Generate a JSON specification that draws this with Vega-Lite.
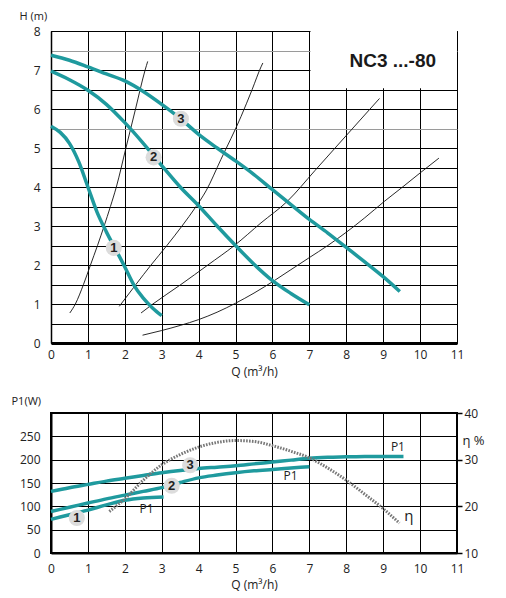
{
  "$schema": "https://vega.github.io/schema/vega-lite/v6.json",
  "background": "white",
  "padding": {"left": 10, "top": 9, "right": 5, "bottom": 5},
  "bounds": "flush",
  "spacing": 70,
  "config": {
    "font": "Open Sans",
    "axis": {
      "labelFont": "Open Sans", "labelFontSize": 12, "labelColor": "#222",
      "titleFont": "Open Sans", "titleFontSize": 12, "titleFontWeight": "normal", "titleColor": "#222",
      "ticks": false, "labelAngle": 0
    }
  },
  "datasets": {
    "pump": [
      {"speed": 1, "Q": 0, "H": 5.56}, {"speed": 1, "Q": 0.25, "H": 5.4}, {"speed": 1, "Q": 0.5, "H": 5.12},
      {"speed": 1, "Q": 0.75, "H": 4.65}, {"speed": 1, "Q": 1, "H": 4.0}, {"speed": 1, "Q": 1.25, "H": 3.35},
      {"speed": 1, "Q": 1.5, "H": 2.85}, {"speed": 1, "Q": 1.75, "H": 2.4}, {"speed": 1, "Q": 2, "H": 1.95},
      {"speed": 1, "Q": 2.25, "H": 1.48}, {"speed": 1, "Q": 2.5, "H": 1.15}, {"speed": 1, "Q": 2.75, "H": 0.9},
      {"speed": 1, "Q": 3, "H": 0.7},
      {"speed": 2, "Q": 0, "H": 6.97}, {"speed": 2, "Q": 0.5, "H": 6.75}, {"speed": 2, "Q": 1, "H": 6.48},
      {"speed": 2, "Q": 1.5, "H": 6.12}, {"speed": 2, "Q": 2, "H": 5.65}, {"speed": 2, "Q": 2.5, "H": 5.12},
      {"speed": 2, "Q": 3, "H": 4.55}, {"speed": 2, "Q": 3.5, "H": 4.0}, {"speed": 2, "Q": 4, "H": 3.52},
      {"speed": 2, "Q": 4.5, "H": 3.0}, {"speed": 2, "Q": 5, "H": 2.5}, {"speed": 2, "Q": 5.5, "H": 2.02},
      {"speed": 2, "Q": 6, "H": 1.6}, {"speed": 2, "Q": 6.5, "H": 1.27}, {"speed": 2, "Q": 7, "H": 0.98},
      {"speed": 3, "Q": 0, "H": 7.38}, {"speed": 3, "Q": 0.5, "H": 7.25}, {"speed": 3, "Q": 1, "H": 7.08},
      {"speed": 3, "Q": 1.5, "H": 6.9}, {"speed": 3, "Q": 2, "H": 6.72}, {"speed": 3, "Q": 2.5, "H": 6.45},
      {"speed": 3, "Q": 3, "H": 6.12}, {"speed": 3, "Q": 3.5, "H": 5.76}, {"speed": 3, "Q": 4, "H": 5.35},
      {"speed": 3, "Q": 4.5, "H": 5.0}, {"speed": 3, "Q": 5, "H": 4.67}, {"speed": 3, "Q": 5.5, "H": 4.32},
      {"speed": 3, "Q": 6, "H": 3.93}, {"speed": 3, "Q": 6.5, "H": 3.55}, {"speed": 3, "Q": 7, "H": 3.17},
      {"speed": 3, "Q": 7.5, "H": 2.82}, {"speed": 3, "Q": 8, "H": 2.45}, {"speed": 3, "Q": 8.5, "H": 2.08},
      {"speed": 3, "Q": 9, "H": 1.7}, {"speed": 3, "Q": 9.45, "H": 1.32}
    ],
    "system": [
      {"curve": "A", "Q": 0.51, "H": 0.77}, {"curve": "A", "Q": 0.66, "H": 1.0}, {"curve": "A", "Q": 0.88, "H": 1.5},
      {"curve": "A", "Q": 1.07, "H": 2.0}, {"curve": "A", "Q": 1.26, "H": 2.5}, {"curve": "A", "Q": 1.44, "H": 3.0},
      {"curve": "A", "Q": 1.61, "H": 3.5}, {"curve": "A", "Q": 1.77, "H": 4.0}, {"curve": "A", "Q": 2.03, "H": 5.0},
      {"curve": "A", "Q": 2.29, "H": 6.0}, {"curve": "A", "Q": 2.55, "H": 7.0}, {"curve": "A", "Q": 2.62, "H": 7.22},
      {"curve": "B", "Q": 1.85, "H": 0.94}, {"curve": "B", "Q": 2.3, "H": 1.5}, {"curve": "B", "Q": 2.71, "H": 2.0},
      {"curve": "B", "Q": 3.14, "H": 2.5}, {"curve": "B", "Q": 3.55, "H": 3.0}, {"curve": "B", "Q": 3.93, "H": 3.5},
      {"curve": "B", "Q": 4.2, "H": 3.9}, {"curve": "B", "Q": 4.6, "H": 4.7}, {"curve": "B", "Q": 5.15, "H": 5.81},
      {"curve": "B", "Q": 5.45, "H": 6.5}, {"curve": "B", "Q": 5.69, "H": 7.08}, {"curve": "B", "Q": 5.74, "H": 7.18},
      {"curve": "C", "Q": 2.44, "H": 0.77}, {"curve": "C", "Q": 2.76, "H": 1.0}, {"curve": "C", "Q": 3.52, "H": 1.5},
      {"curve": "C", "Q": 4.25, "H": 2.0}, {"curve": "C", "Q": 4.97, "H": 2.5}, {"curve": "C", "Q": 5.69, "H": 3.08},
      {"curve": "C", "Q": 6.41, "H": 3.64}, {"curve": "C", "Q": 7.15, "H": 4.42}, {"curve": "C", "Q": 8.0, "H": 5.32},
      {"curve": "C", "Q": 8.9, "H": 6.27},
      {"curve": "D", "Q": 2.48, "H": 0.2}, {"curve": "D", "Q": 3.0, "H": 0.32}, {"curve": "D", "Q": 3.5, "H": 0.45},
      {"curve": "D", "Q": 4.0, "H": 0.6}, {"curve": "D", "Q": 4.5, "H": 0.79}, {"curve": "D", "Q": 5.0, "H": 1.02},
      {"curve": "D", "Q": 5.5, "H": 1.28}, {"curve": "D", "Q": 6.05, "H": 1.6}, {"curve": "D", "Q": 6.5, "H": 1.88},
      {"curve": "D", "Q": 7.0, "H": 2.19}, {"curve": "D", "Q": 7.5, "H": 2.5}, {"curve": "D", "Q": 8.0, "H": 2.84},
      {"curve": "D", "Q": 8.5, "H": 3.21}, {"curve": "D", "Q": 9.03, "H": 3.63}, {"curve": "D", "Q": 9.5, "H": 3.98},
      {"curve": "D", "Q": 10.0, "H": 4.36}, {"curve": "D", "Q": 10.51, "H": 4.74}
    ],
    "pumpTags": [
      {"tag": "1", "Q": 1.7, "H": 2.44},
      {"tag": "2", "Q": 2.78, "H": 4.76},
      {"tag": "3", "Q": 3.52, "H": 5.75}
    ],
    "box": [
      {"Q": 7.03, "Q2": 11, "H": 6.53, "H2": 8}
    ],
    "model": [
      {"name": "NC3 ...-80", "Q": 9.26, "H": 7.22}
    ],
    "power": [
      {"speed": 1, "Q": 0, "P1": 72}, {"speed": 1, "Q": 0.5, "P1": 82}, {"speed": 1, "Q": 1, "P1": 92},
      {"speed": 1, "Q": 1.5, "P1": 103}, {"speed": 1, "Q": 2, "P1": 113}, {"speed": 1, "Q": 2.5, "P1": 118},
      {"speed": 1, "Q": 3.05, "P1": 120},
      {"speed": 2, "Q": 0, "P1": 89}, {"speed": 2, "Q": 0.5, "P1": 98}, {"speed": 2, "Q": 1, "P1": 107},
      {"speed": 2, "Q": 1.5, "P1": 116}, {"speed": 2, "Q": 2, "P1": 124}, {"speed": 2, "Q": 2.5, "P1": 132},
      {"speed": 2, "Q": 3, "P1": 140}, {"speed": 2, "Q": 3.5, "P1": 151}, {"speed": 2, "Q": 4, "P1": 161},
      {"speed": 2, "Q": 4.5, "P1": 167}, {"speed": 2, "Q": 5, "P1": 172}, {"speed": 2, "Q": 5.5, "P1": 176},
      {"speed": 2, "Q": 6, "P1": 179}, {"speed": 2, "Q": 6.5, "P1": 182}, {"speed": 2, "Q": 7, "P1": 185},
      {"speed": 3, "Q": 0, "P1": 132}, {"speed": 3, "Q": 0.5, "P1": 140}, {"speed": 3, "Q": 1, "P1": 147},
      {"speed": 3, "Q": 1.5, "P1": 154}, {"speed": 3, "Q": 2, "P1": 160}, {"speed": 3, "Q": 2.5, "P1": 166},
      {"speed": 3, "Q": 3, "P1": 172}, {"speed": 3, "Q": 3.5, "P1": 177}, {"speed": 3, "Q": 4, "P1": 181},
      {"speed": 3, "Q": 4.5, "P1": 184}, {"speed": 3, "Q": 5, "P1": 187}, {"speed": 3, "Q": 5.5, "P1": 191},
      {"speed": 3, "Q": 6, "P1": 195}, {"speed": 3, "Q": 6.5, "P1": 199}, {"speed": 3, "Q": 7, "P1": 203},
      {"speed": 3, "Q": 7.5, "P1": 205}, {"speed": 3, "Q": 8, "P1": 206}, {"speed": 3, "Q": 8.5, "P1": 207},
      {"speed": 3, "Q": 9, "P1": 207}, {"speed": 3, "Q": 9.55, "P1": 207}
    ],
    "powerTags": [
      {"tag": "1", "Q": 0.7, "P1": 75},
      {"tag": "2", "Q": 3.27, "P1": 144},
      {"tag": "3", "Q": 3.77, "P1": 188}
    ],
    "powerNotes": [
      {"note": "P1", "Q": 2.59, "P1": 94},
      {"note": "P1", "Q": 6.49, "P1": 164},
      {"note": "P1", "Q": 9.4, "P1": 228}
    ],
    "eff": [
      {"Q": 1.58, "eta": 18.9}, {"Q": 2.0, "eta": 21.6}, {"Q": 2.5, "eta": 25.6}, {"Q": 3.0, "eta": 28.9},
      {"Q": 3.5, "eta": 31.1}, {"Q": 4.0, "eta": 32.7}, {"Q": 4.5, "eta": 33.7}, {"Q": 5.0, "eta": 34.1},
      {"Q": 5.5, "eta": 33.9}, {"Q": 6.0, "eta": 33.0}, {"Q": 6.5, "eta": 31.8}, {"Q": 7.0, "eta": 30.4},
      {"Q": 7.5, "eta": 28.2}, {"Q": 8.0, "eta": 25.6}, {"Q": 8.5, "eta": 22.6}, {"Q": 9.0, "eta": 19.5},
      {"Q": 9.44, "eta": 16.4}
    ],
    "effNote": [
      {"note": "η", "Q": 9.57, "eta": 18.0}
    ]
  },
  "vconcat": [
    {
      "width": 406,
      "height": 312,
      "view": {"stroke": "black", "strokeWidth": 1},
      "encoding": {
        "x": {
          "field": "Q", "type": "quantitative",
          "scale": {"domain": [0, 11], "nice": false},
          "axis": {
            "values": [0, 1, 2, 3, 4, 5, 6, 7, 8, 9, 10, 11],
            "grid": true, "gridColor": "black", "gridWidth": 1, "gridOpacity": 1,
            "domainColor": "black", "domainWidth": 3,
            "labelPadding": 6, "labelFlush": false,
            "title": "Q (m³/h)", "titlePadding": 6
          }
        },
        "y": {
          "field": "H", "type": "quantitative",
          "scale": {"domain": [0, 8], "nice": false},
          "axis": {
            "values": [0, 0.5, 1, 1.5, 2, 2.5, 3, 3.5, 4, 4.5, 5, 5.5, 6, 6.5, 7, 7.5, 8],
            "labelExpr": "datum.value % 1 === 0 ? '' + datum.value : ''",
            "grid": true, "gridWidth": 1, "gridOpacity": 1,
            "gridColor": {"condition": {"test": "datum.value === 7.5 || datum.value === 5.5", "value": "#9a9a9a"}, "value": "black"},
            "domainColor": "black", "domainWidth": 1.5,
            "labelPadding": 11,
            "title": "H (m)", "titleAngle": 0, "titleAlign": "left", "titleBaseline": "middle",
            "titleX": -32, "titleY": -15, "titleFontSize": 11
          }
        }
      },
      "layer": [
        {
          "data": {"name": "box"},
          "mark": {"type": "rect", "fill": "white"},
          "encoding": {"x2": {"field": "Q2"}, "y2": {"field": "H2"}}
        },
        {
          "data": {"name": "model"},
          "mark": {"type": "text", "font": "Liberation Sans", "fontSize": 19, "fontWeight": "bold", "color": "#1a1a1a"},
          "encoding": {"text": {"field": "name"}}
        },
        {
          "data": {"name": "system"},
          "mark": {"type": "line", "color": "#111", "strokeWidth": 0.9, "interpolate": "monotone"},
          "encoding": {"detail": {"field": "curve"}}
        },
        {
          "data": {"name": "pump"},
          "mark": {"type": "line", "color": "#1f9a9e", "strokeWidth": 3.5, "interpolate": "monotone"},
          "encoding": {"detail": {"field": "speed"}}
        },
        {
          "data": {"name": "pumpTags"},
          "mark": {"type": "point", "shape": "circle", "filled": true, "color": "#dcdcdc", "opacity": 1, "size": 260}
        },
        {
          "data": {"name": "pumpTags"},
          "mark": {"type": "text", "font": "Liberation Sans", "fontSize": 13, "fontWeight": "bold", "color": "#222"},
          "encoding": {"text": {"field": "tag"}}
        }
      ]
    },
    {
      "width": 406,
      "height": 140,
      "view": {"stroke": "black", "strokeWidth": 2},
      "encoding": {
        "x": {
          "field": "Q", "type": "quantitative",
          "scale": {"domain": [0, 11], "nice": false},
          "axis": {
            "values": [0, 1, 2, 3, 4, 5, 6, 7, 8, 9, 10, 11],
            "grid": true, "gridColor": "black", "gridWidth": 1, "gridOpacity": 1,
            "domainColor": "black", "domainWidth": 2,
            "labelPadding": 10, "labelFlush": false,
            "title": "Q (m³/h)", "titlePadding": 5
          }
        }
      },
      "layer": [
        {
          "encoding": {
            "y": {
              "field": "P1", "type": "quantitative",
              "scale": {"domain": [0, 300], "nice": false},
              "axis": {
                "values": [0, 50, 100, 150, 200, 250],
                "grid": true, "gridColor": "black", "gridWidth": 1, "gridOpacity": 1,
                "domainColor": "black", "domainWidth": 2,
                "labelPadding": 11,
                "title": "P1(W)", "titleAngle": 0, "titleAlign": "left", "titleBaseline": "middle",
                "titleX": -40, "titleY": -12, "titleFontSize": 11
              }
            }
          },
          "layer": [
            {
              "data": {"name": "power"},
              "mark": {"type": "line", "color": "#1f9a9e", "strokeWidth": 3.5, "interpolate": "monotone"},
              "encoding": {"detail": {"field": "speed"}}
            },
            {
              "data": {"name": "powerNotes"},
              "mark": {"type": "text", "fontSize": 12, "color": "#222"},
              "encoding": {"text": {"field": "note"}}
            },
            {
              "data": {"name": "powerTags"},
              "mark": {"type": "point", "shape": "circle", "filled": true, "color": "#dcdcdc", "opacity": 1, "size": 260}
            },
            {
              "data": {"name": "powerTags"},
              "mark": {"type": "text", "font": "Liberation Sans", "fontSize": 13, "fontWeight": "bold", "color": "#222"},
              "encoding": {"text": {"field": "tag"}}
            }
          ]
        },
        {
          "encoding": {
            "y": {
              "field": "eta", "type": "quantitative",
              "scale": {"domain": [10, 40], "nice": false, "zero": false},
              "axis": {
                "orient": "right", "values": [10, 20, 30, 40],
                "grid": false, "domain": false,
                "ticks": true, "tickSize": 5, "tickColor": "black", "tickWidth": 1.5,
                "labelPadding": 2,
                "title": "η %", "titleAngle": 0, "titleAlign": "left", "titleBaseline": "middle",
                "titleX": 5, "titleY": 27, "titleFontSize": 13
              }
            }
          },
          "layer": [
            {
              "data": {"name": "eff"},
              "mark": {"type": "line", "color": "#777777", "strokeWidth": 3, "strokeDash": [1.6, 1.3], "interpolate": "monotone"}
            },
            {
              "data": {"name": "effNote"},
              "mark": {"type": "text", "align": "left", "fontSize": 15, "color": "#222"},
              "encoding": {"text": {"field": "note"}}
            }
          ]
        }
      ],
      "resolve": {"scale": {"y": "independent"}}
    }
  ]
}
